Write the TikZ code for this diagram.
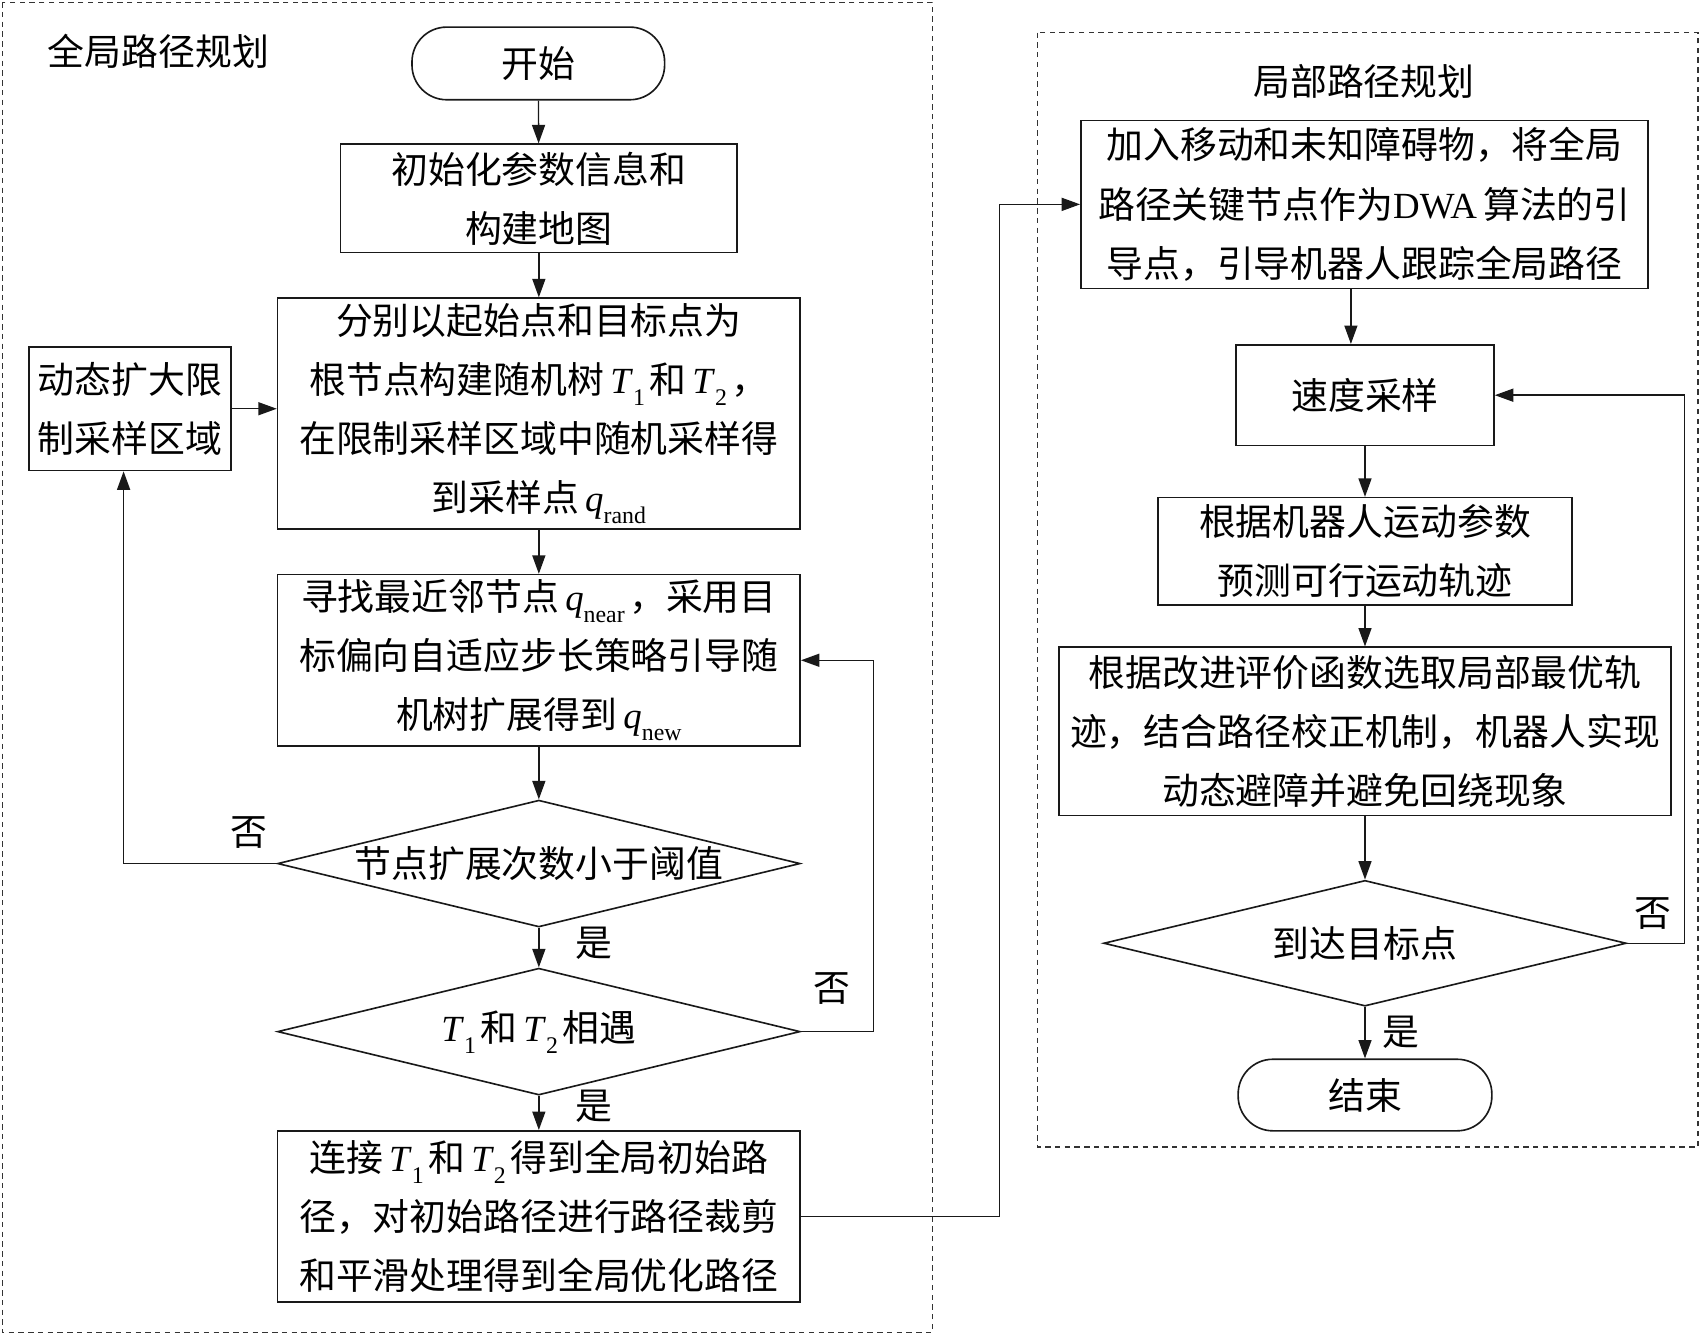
\documentclass[tikz,border=0pt]{standalone}
\usepackage{fontspec}
\setmainfont{Liberation Serif}
\newfontfamily\cjk{Noto Sans CJK SC}
\usetikzlibrary{shapes.geometric,arrows.meta}
\newcommand\nf{\cjk\fontsize{17}{27.25}\selectfont}
\newcommand\mv[1]{{\rmfamily\itshape #1\/}}
\newcommand\ms[1]{\raisebox{-0.6ex}{\rmfamily\fontsize{11}{11}\selectfont #1}\hspace{0.12em}}
\newcommand\lt[1]{{\rmfamily #1}}
\tikzset{
  box/.style={draw=black!90, line width=0.75pt, inner sep=0pt, align=center, font=\nf},
  term/.style={box, rounded corners=16pt},
  decision/.style={box, shape=diamond, aspect=4},
  plain/.style={inner sep=0pt, align=center, font=\nf},
  dashbox/.style={draw=black!80, line width=0.6pt, dash pattern=on 2.5pt off 2pt},
  arr/.style={draw=black!90, line width=0.65pt, -{Triangle[length=8.5pt,width=6pt]}},
}
\begin{document}
\begin{tikzpicture}[x=0.5pt, y=-0.5pt]
\useasboundingbox (0,0) rectangle (1568,1231);
% group frames
\draw[dashbox] (2,2) rectangle (860,1229);
\draw[dashbox] (957,30) rectangle (1566,1058);
\node[plain] (tg) at (146,47) {全局路径规划};
\node[plain] (tl) at (1258,75) {局部路径规划};
% left column
\node[term, minimum width=116.5pt, minimum height=33.5pt] (start) at (496.5,58.5) {开始};
\node[box, minimum width=183pt, minimum height=50pt] (init) at (497,183) {初始化参数信息和\\构建地图};
\node[box, minimum width=241pt, minimum height=106.5pt] (split) at (497,381.5) {分别以起始点和目标点为\\根节点构建随机树\,\mv{T}\ms{1}和\,\mv{T}\ms{2}，\\在限制采样区域中随机采样得\\到采样点\,\mv{q}\ms{rand}};
\node[box, minimum width=93pt, minimum height=57pt] (dyn) at (120,377) {动态扩大限\\制采样区域};
\node[box, minimum width=241pt, minimum height=79pt] (near) at (497,609) {寻找最近邻节点\,\mv{q}\ms{near}，采用目\\标偏向自适应步长策略引导随\\机树扩展得到\,\mv{q}\ms{new}};
\node[decision, minimum width=241pt, minimum height=58.5pt] (d1) at (497,796.5) {节点扩展次数小于阈值};
\node[decision, minimum width=241pt, minimum height=58.5pt] (d2) at (497,951.5) {\mv{T}\ms{1}和\,\mv{T}\ms{2}相遇};
\node[box, minimum width=241pt, minimum height=79pt] (join) at (497,1122) {连接\,\mv{T}\ms{1}和\,\mv{T}\ms{2}得到全局初始路\\径，对初始路径进行路径裁剪\\和平滑处理得到全局优化路径};
% right column
\node[box, minimum width=261.5pt, minimum height=77.5pt] (dwa) at (1258.5,188.5) {加入移动和未知障碍物，将全局\\路径关键节点作为\lt{DWA}\,算法的引\\导点，引导机器人跟踪全局路径};
\node[box, minimum width=119pt, minimum height=46.5pt] (speed) at (1259,364.5) {速度采样};
\node[box, minimum width=191pt, minimum height=49.5pt] (pred) at (1259,508.5) {根据机器人运动参数\\预测可行运动轨迹};
\node[box, minimum width=282pt, minimum height=77.5pt] (eval) at (1259,674.5) {根据改进评价函数选取局部最优轨\\迹，结合路径校正机制，机器人实现\\动态避障并避免回绕现象};
\node[decision, minimum width=241pt, minimum height=58pt] (d3) at (1259,870) {到达目标点};
\node[term, minimum width=117pt, minimum height=33pt] (end) at (1259,1010) {结束};
% labels
\node[plain] (n1) at (230,768) {否};
\node[plain] (y1) at (548,870) {是};
\node[plain] (n2) at (767,912) {否};
\node[plain] (y2) at (548,1020) {是};
\node[plain] (n3) at (1525,843) {否};
\node[plain] (y3) at (1292,952) {是};
% helper coordinates
\coordinate (c1) at (114,796.5);
\coordinate (a1) at (1246,0);
% connectors
\draw[arr] (start) -- (init);
\draw[arr] (init) -- (split);
\draw[arr] (dyn.east) -- (dyn.east -| split.west);
\draw[arr] (split) -- (near);
\draw[arr] (near) -- (d1);
\draw[arr] (d1.west) -- (c1) -- (c1 |- dyn.south);
\draw[arr] (d1) -- (d2);
\draw[arr] (d2.east) -- ++(67,0) |- (near.east);
\draw[arr] (d2) -- (join);
\draw[arr] (join.east) -- ++(183,0) |- (dwa.west);
\draw[arr] (a1 |- dwa.south) -- (a1 |- speed.north);
\draw[arr] (speed) -- (pred);
\draw[arr] (pred) -- (eval);
\draw[arr] (eval) -- (d3);
\draw[arr] (d3.east) -- ++(53,0) |- (speed.east);
\draw[arr] (d3) -- (end);
\end{tikzpicture}
\end{document}
